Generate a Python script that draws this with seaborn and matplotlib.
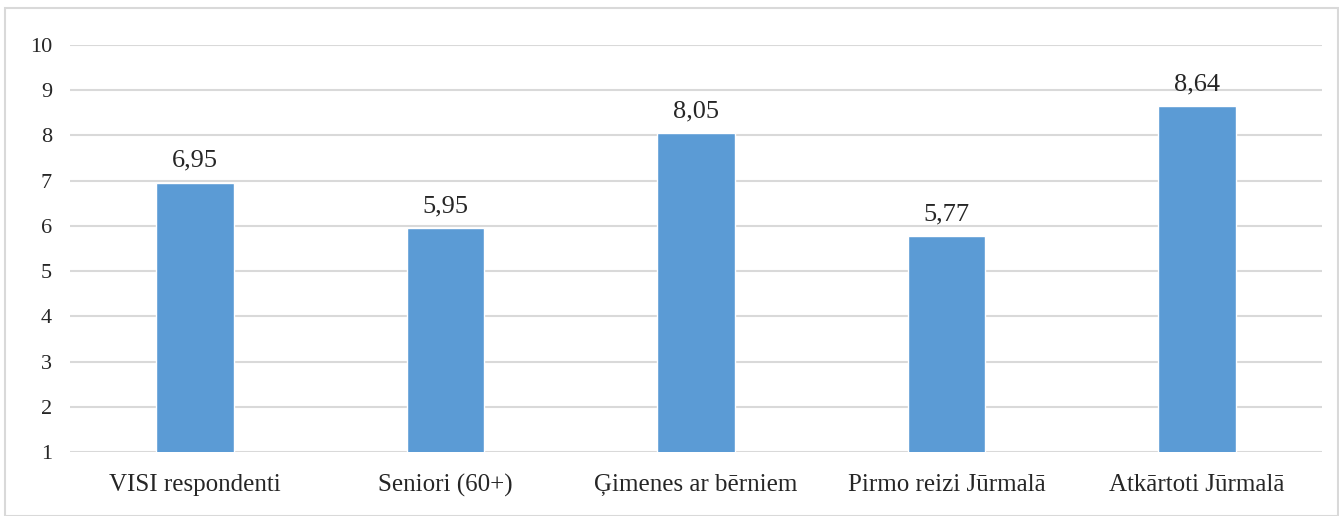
import numpy as np
import pandas as pd
import matplotlib.pyplot as plt
import matplotlib.patches as mpatches
import seaborn as sns

categories = ['VISI respondenti', 'Seniori (60+)', 'Ģimenes ar bērniem', 'Pirmo reizi Jūrmalā', 'Atkārtoti Jūrmalā']
values = [6.95, 5.95, 8.05, 5.77, 8.64]
labels = ['6,95', '5,95', '8,05', '5,77', '8,64']

df = pd.DataFrame({'group': categories, 'score': values})

sns.set_style('white')
plt.rcParams['font.family'] = ['Liberation Serif', 'DejaVu Serif']

fig = plt.figure(figsize=(13.39, 5.16), dpi=100)
ax = fig.add_axes([0.0523, 0.124, 0.935, 0.789])

sns.barplot(data=df, x='group', y='score', color='#5B9BD5', width=0.31,
            saturation=1, ax=ax, zorder=3)

ax.set_ylim(1, 10)
ax.set_yticks(range(1, 11))
ax.set_xlim(-0.5, len(categories) - 0.5)
ax.grid(axis='y', color='#D9D9D9', linewidth=1.5, zorder=0)
ax.set_axisbelow(True)
for s in ax.spines.values():
    s.set_visible(False)
ax.tick_params(axis='y', length=0, labelsize=16, pad=13)
ax.tick_params(axis='x', length=0, labelsize=18, pad=16)
ax.set_xlabel('')
ax.set_ylabel('')

for i, (v, lab) in enumerate(zip(values, labels)):
    ax.annotate(lab, (i, v), xytext=(0, 8), textcoords='offset points',
                ha='center', va='bottom', fontsize=19)

fig.patches.append(mpatches.Rectangle((0.004, 0.0), 0.995, 0.985, transform=fig.transFigure,
                                      fill=False, edgecolor='#D9D9D9', linewidth=1.5))

fig.savefig('out.png', dpi=100)
